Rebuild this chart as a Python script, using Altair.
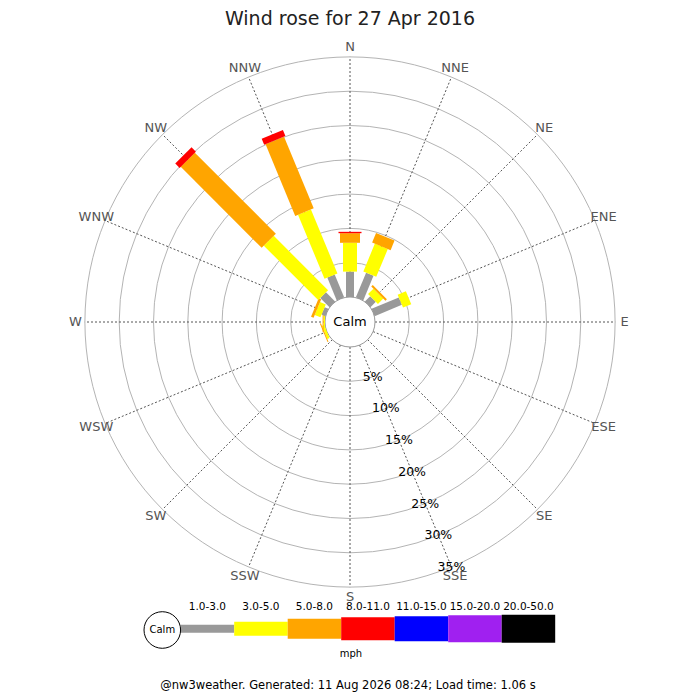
import altair as alt
import pandas as pd

# ---------------- data ----------------
directions = ["N", "NNE", "NE", "ENE", "E", "ESE", "SE", "SSE",
              "S", "SSW", "SW", "WSW", "W", "WNW", "NW", "NNW"]
bands = ["1.0-3.0", "3.0-5.0", "5.0-8.0", "8.0-11.0",
         "11.0-15.0", "15.0-20.0", "20.0-50.0"]

# percent of the day, per direction (same order as `directions`)
freq_1_3   = [3.7, 3.9, 1.1, 4.3, 0, 0, 0, 0, 0, 0, 0, 0,    0,    0.6, 1.9, 3.6]
freq_3_5   = [4.2, 4.4, 1.1, 1.3, 0, 0, 0, 0, 0, 0, 0, 0.35, 0.2,  0.9, 11.2, 10.1]
freq_5_8   = [1.4, 1.5, 0.3, 0,   0, 0, 0, 0, 0, 0, 0, 0.15, 0.15, 0.4, 16.7, 11.3]
freq_8_11  = [0.2, 0,   0,   0,   0, 0, 0, 0, 0, 0, 0, 0,    0,    0,   0.9, 0.95]
freq_11_15 = [0] * 16
freq_15_20 = [0] * 16
freq_20_50 = [0] * 16

ring_pcts = [5, 10, 15, 20, 25, 30, 35]
ring_labels = ["5%", "10%", "15%", "20%", "25%", "30%", "35%"]

title_text = "Wind rose for 27 Apr 2016"
footer_text = "@nw3weather. Generated: 11 Aug 2026 08:24; Load time: 1.06 s"
unit_text = "mph"
calm_text = "Calm"

# ---------------- styles / layout ----------------
band_colors = ["#999999", "#ffff00", "#ffa500", "#ff0000", "#0000ff", "#a020f0", "#000000"]
band_widths = [8, 14, 20, 23, 25, 27, 28]
R0 = 25.0       # calm circle radius (px)
K = 6.86        # px per percent
R_OUT = R0 + K * 35
R_LAB = R_OUT + 9.5
FONT = "DejaVu Sans"

freqs = [freq_1_3, freq_3_5, freq_5_8, freq_8_11, freq_11_15, freq_15_20, freq_20_50]
rows = []
for i, d in enumerate(directions):
    cum = 0.0
    for j, b in enumerate(bands):
        f = freqs[j][i]
        if f > 0:
            rows.append({"dir": d, "idx": i, "band": b, "start": cum, "end": cum + f})
            cum += f
bars_df = pd.DataFrame(rows)
dirs_df = pd.DataFrame({"dir": directions, "idx": list(range(16))})
rings_df = pd.DataFrame({"pct": ring_pcts, "label": ring_labels})
legend_df = pd.DataFrame({"band": bands, "pos": list(range(len(bands)))})

XS = alt.Scale(domain=[-342, 342], nice=False, zero=False)
YS = alt.Scale(domain=[-370, 314], nice=False, zero=False)


def X(f):
    return alt.X(f, type="quantitative", scale=XS, axis=None)


def Y(f):
    return alt.Y(f, type="quantitative", scale=YS, axis=None)


color_enc = alt.Color("band:N", scale=alt.Scale(domain=bands, range=band_colors), legend=None)
width_enc = alt.StrokeWidth("band:N",
                            scale=alt.Scale(type="ordinal", domain=bands, range=band_widths),
                            legend=None)

ang = "datum.idx * 22.5 * PI / 180"

# rings
rings = alt.Chart(rings_df).transform_calculate(
    cx="0", cy="0",
    sz=f"pow(2 * ({R0} + {K} * datum.pct), 2)"
).mark_point(shape="circle", filled=False, stroke="#b4b4b4", strokeWidth=1, opacity=1).encode(
    x=X("cx"), y=Y("cy"), size=alt.Size("sz:Q", scale=None)
)

# spokes
spokes = alt.Chart(dirs_df).transform_calculate(
    x1=f"{R0} * sin({ang})", y1=f"{R0} * cos({ang})",
    x2=f"{R_OUT} * sin({ang})", y2=f"{R_OUT} * cos({ang})"
).mark_rule(color="#555555", strokeWidth=1, strokeDash=[2, 2]).encode(
    x=X("x1"), y=Y("y1"), x2="x2:Q", y2="y2:Q"
)

# compass labels
compass = alt.Chart(dirs_df).transform_calculate(
    lx=f"{R_LAB} * sin({ang})", ly=f"{R_LAB} * cos({ang})"
).mark_text(font=FONT, fontSize=13, color="#555555", align="center", baseline="middle").encode(
    x=X("lx"), y=Y("ly"), text="dir:N"
)

# bars
bars = alt.Chart(bars_df).transform_calculate(
    x1=f"({R0} + {K} * datum.start) * sin({ang})",
    y1=f"({R0} + {K} * datum.start) * cos({ang})",
    x2=f"({R0} + {K} * datum.end) * sin({ang})",
    y2=f"({R0} + {K} * datum.end) * cos({ang})"
).mark_rule(strokeCap="butt", opacity=1).encode(
    x=X("x1"), y=Y("y1"), x2="x2:Q", y2="y2:Q", color=color_enc, strokeWidth=width_enc
)

# calm circle
calm_df = pd.DataFrame({"label": [calm_text]})
calm_circle = alt.Chart(calm_df).transform_calculate(cx="0", cy="0").mark_point(
    shape="circle", filled=True, fill="white", stroke="#999999", strokeWidth=1, opacity=1,
    size=(2 * R0) ** 2
).encode(x=X("cx"), y=Y("cy"))
calm_label = alt.Chart(calm_df).transform_calculate(cx="0", cy="0").mark_text(
    font=FONT, fontSize=13, color="black", align="center", baseline="middle"
).encode(x=X("cx"), y=Y("cy"), text="label:N")

# percentage labels along SSE
sse = 157.5 * 3.141592653589793 / 180
pct_labels = alt.Chart(rings_df).transform_calculate(
    lx=f"({R0} + {K} * datum.pct) * sin({sse})",
    ly=f"({R0} + {K} * datum.pct) * cos({sse})"
).mark_text(font=FONT, fontSize=12.5, color="black", align="center", baseline="middle").encode(
    x=X("lx"), y=Y("ly"), text="label:N"
)

# legend
LEG_X0 = -169.3
LEG_W = 53.5
LEG_Y = -306.8
leg_bars = alt.Chart(legend_df).transform_calculate(
    x1=f"{LEG_X0} + {LEG_W} * datum.pos",
    x2=f"{LEG_X0} + {LEG_W} * (datum.pos + 1)",
    y1=f"{LEG_Y}"
).mark_rule(strokeCap="butt", opacity=1).encode(
    x=X("x1"), x2="x2:Q", y=Y("y1"), y2="y1:Q", color=color_enc, strokeWidth=width_enc
)
leg_labels = alt.Chart(legend_df).transform_calculate(
    lx=f"{LEG_X0} + {LEG_W} * (datum.pos + 0.5)",
    ly=f"{LEG_Y} + 22"
).mark_text(font=FONT, fontSize=10.5, color="black", align="center", baseline="middle").encode(
    x=X("lx"), y=Y("ly"), text="band:N"
)
leg_calm = alt.Chart(calm_df).transform_calculate(cx="-187.7", cy="-308").mark_point(
    shape="circle", filled=True, fill="white", stroke="black", strokeWidth=1, opacity=1,
    size=36.6 ** 2
).encode(x=X("cx"), y=Y("cy"))
leg_calm_label = alt.Chart(calm_df).transform_calculate(cx="-187.7", cy="-308").mark_text(
    font=FONT, fontSize=10, color="black", align="center", baseline="middle"
).encode(x=X("cx"), y=Y("cy"), text="label:N")

texts_df = pd.DataFrame({"t": [title_text, unit_text, footer_text]})
title = alt.Chart(texts_df).transform_filter(alt.datum.t == title_text).mark_text(
    font=FONT, fontSize=19, color="#222222", align="center", baseline="middle"
).encode(x=alt.value(342), y=alt.value(11), text="t:N")
unit = alt.Chart(texts_df).transform_filter(alt.datum.t == unit_text).mark_text(
    font=FONT, fontSize=10, color="black", align="center", baseline="middle"
).encode(x=alt.value(343), y=alt.value(646), text="t:N")
footer = alt.Chart(texts_df).transform_filter(alt.datum.t == footer_text).mark_text(
    font=FONT, fontSize=11.5, color="black", align="center", baseline="bottom"
).encode(x=alt.value(340), y=alt.value(683), text="t:N")

chart = alt.layer(
    rings, spokes, compass, calm_circle, bars, calm_label, pct_labels,
    leg_bars, leg_calm, leg_calm_label, leg_labels, title, unit, footer
).properties(
    width=684, height=684, padding=0, autosize=alt.AutoSizeParams(type="none"),
    background="white"
).configure_view(stroke=None)

chart.save("out.html", embed_options={"renderer": "svg", "actions": False})
